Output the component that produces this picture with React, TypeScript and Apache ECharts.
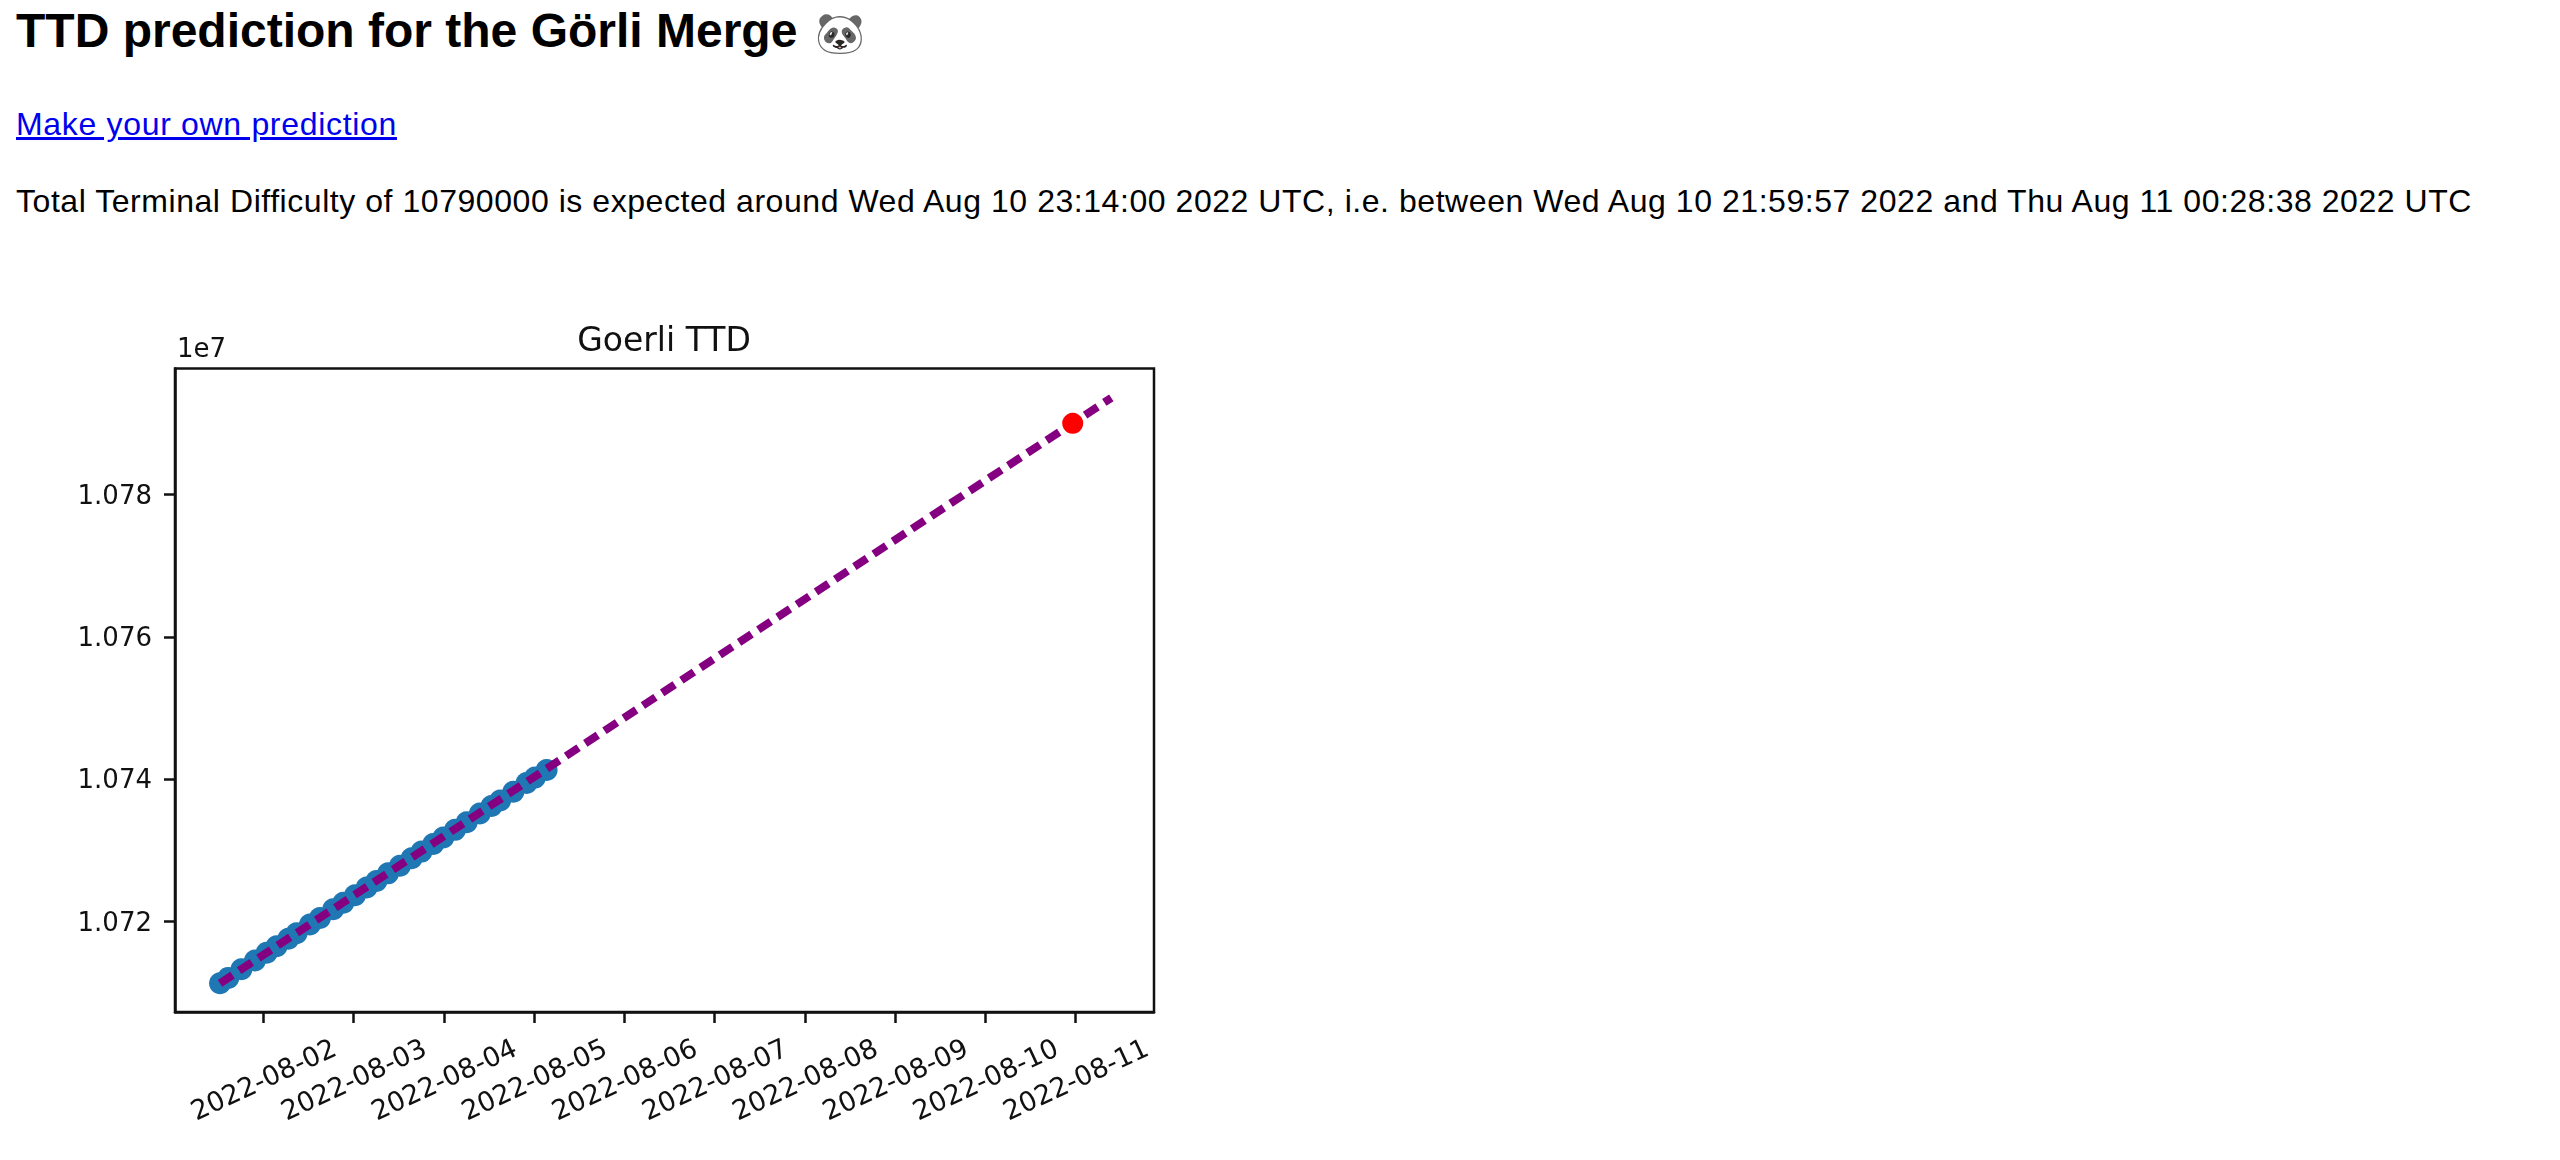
import React, { useEffect, useRef } from "react";
import * as echarts from "echarts";

const headingText = "TTD prediction for the Görli Merge ";
const headingEmoji = "🐼";
const linkText = "Make your own prediction";
const paragraphText =
  "Total Terminal Difficulty of 10790000 is expected around Wed Aug 10 23:14:00 2022 UTC, i.e. between Wed Aug 10 21:59:57 2022 and Thu Aug 11 00:28:38 2022 UTC";
const chartTitle = "Goerli TTD";
const offsetText = "1e7";

const xTickDates = [
  "2022-08-02", "2022-08-03", "2022-08-04", "2022-08-05", "2022-08-06",
  "2022-08-07", "2022-08-08", "2022-08-09", "2022-08-10", "2022-08-11",
];
const yTickValues = [10720000, 10740000, 10760000, 10780000];

const observedTimes = [
  "2022-08-01T12:30:00Z", "2022-08-01T14:42:00Z", "2022-08-01T18:12:00Z", "2022-08-01T21:48:00Z",
  "2022-08-02T00:54:00Z", "2022-08-02T03:33:00Z", "2022-08-02T06:40:00Z", "2022-08-02T08:52:00Z",
  "2022-08-02T12:25:00Z", "2022-08-02T15:05:00Z", "2022-08-02T18:36:00Z", "2022-08-02T21:18:00Z",
  "2022-08-03T00:24:00Z", "2022-08-03T03:30:00Z", "2022-08-03T06:06:00Z", "2022-08-03T09:12:00Z",
  "2022-08-03T12:21:00Z", "2022-08-03T15:27:00Z", "2022-08-03T18:06:00Z", "2022-08-03T21:12:00Z",
  "2022-08-03T23:54:00Z", "2022-08-04T03:00:00Z", "2022-08-04T06:06:00Z", "2022-08-04T09:36:00Z",
  "2022-08-04T12:42:00Z", "2022-08-04T15:00:00Z", "2022-08-04T18:30:00Z", "2022-08-04T22:00:00Z",
  "2022-08-05T00:15:00Z", "2022-08-05T03:21:00Z",
];
const observedTTD = [
  10711350, 10712110, 10713330, 10714560, 10715630, 10716545, 10717615, 10718380,
  10719600, 10720520, 10721740, 10722660, 10723730, 10724800, 10725715, 10726790,
  10727855, 10728925, 10729845, 10730915, 10731830, 10732900, 10733970, 10735190,
  10736265, 10737030, 10738250, 10739470, 10740240, 10741305,
];
const fitTimes = ["2022-08-01T12:30:00Z", "2022-08-11T09:30:00Z"];
const fitTTD = [10711350, 10793580];
const targetTime = "2022-08-10T23:14:00Z";
const targetTTD = 10790000;

const xMin = "2022-08-01T00:32:00Z";
const xMax = "2022-08-11T20:51:00Z";
const yMin = 10707320;
const yMax = 10797700;

const chartFont = "DejaVu Sans";
const inkColor = "#111111";

export default function App() {
  const ref = useRef<HTMLDivElement>(null);
  useEffect(() => {
    const chart = echarts.init(ref.current!, undefined, { renderer: "svg" });
    const ms = (s: string) => Date.parse(s);
    chart.setOption({
      animation: false,
      backgroundColor: "transparent",
      title: {
        text: chartTitle,
        left: 659,
        top: 318,
        textAlign: "center",
        textStyle: { fontFamily: chartFont, fontSize: 33, fontWeight: "normal", color: inkColor },
      },
      grid: { left: 175, top: 368.5, width: 979, height: 643.5, show: false },
      xAxis: {
        type: "value",
        scale: true,
        min: ms(xMin),
        max: ms(xMax),
        splitLine: { show: false },
        axisLine: { show: true, lineStyle: { color: inkColor, width: 2.5 } },
        axisTick: {
          show: true,
          length: 11,
          lineStyle: { color: inkColor, width: 2.5 },
          customValues: xTickDates.map((d) => ms(d + "T00:00:00Z")),
        },
        axisLabel: {
          show: true,
          customValues: xTickDates.map((d) => ms(d + "T00:00:00Z")),
          formatter: (v: number) => new Date(v).toISOString().slice(0, 10),
          rotate: 25,
          align: "center",
          verticalAlign: "middle",
          margin: 67,
          hideOverlap: false,
          fontFamily: chartFont,
          fontSize: 27,
          color: inkColor,
        },
      },
      yAxis: {
        type: "value",
        scale: true,
        min: yMin,
        max: yMax,
        splitLine: { show: false },
        axisLine: { show: true, lineStyle: { color: inkColor, width: 2.5 } },
        axisTick: {
          show: true,
          length: 11,
          lineStyle: { color: inkColor, width: 2.5 },
          customValues: yTickValues,
        },
        axisLabel: {
          show: true,
          customValues: yTickValues,
          formatter: (v: number) => (v / 1e7).toFixed(3),
          margin: 23,
          fontFamily: chartFont,
          fontSize: 26,
          color: inkColor,
        },
      },
      graphic: [
        {
          type: "rect",
          silent: true,
          shape: { x: 175, y: 368.5, width: 979, height: 643.5 },
          style: { fill: "none", stroke: inkColor, lineWidth: 2.5 },
        },
        {
          type: "text",
          x: 177,
          y: 348,
          style: {
            text: offsetText,
            fontFamily: chartFont,
            fontSize: 26,
            fill: inkColor,
            verticalAlign: "middle",
          },
        },
      ],
      series: [
        {
          name: "observed",
          type: "scatter",
          symbolSize: 22,
          itemStyle: { color: "#1f77b4", opacity: 1 },
          data: observedTimes.map((t, i) => [ms(t), observedTTD[i]]),
          z: 2,
        },
        {
          name: "fit",
          type: "line",
          showSymbol: false,
          lineStyle: { color: "#850080", width: 8, type: [15, 8], cap: "butt" },
          data: fitTimes.map((t, i) => [ms(t), fitTTD[i]]),
          z: 3,
        },
        {
          name: "target",
          type: "scatter",
          symbolSize: 21,
          itemStyle: { color: "#ff0000", opacity: 1 },
          data: [[ms(targetTime), targetTTD]],
          z: 4,
        },
      ],
    });
    return () => chart.dispose();
  }, []);

  const font = "'Liberation Sans', Arial, sans-serif";
  return (
    <div style={{ position: "absolute", left: 0, top: 0, width: 2560, height: 1160, overflow: "hidden", background: "#fff" }}>
      <div
        ref={ref}
        style={{ position: "absolute", left: 0, top: 0, width: 2560, height: 1160, filter: "blur(0.7px)" }}
      />
      <h2 style={{ position: "absolute", left: 16, top: 3, margin: 0, fontFamily: font, fontSize: 48, lineHeight: "56px", fontWeight: "bold", color: "#000", whiteSpace: "nowrap" }}>
        {headingText}
        <span style={{ fontSize: 40, fontWeight: "normal", marginLeft: 4, opacity: 0.85 }}>{headingEmoji}</span>
      </h2>
      <a href="#" style={{ position: "absolute", left: 16, top: 105, fontFamily: font, fontSize: 32, lineHeight: "38px", letterSpacing: 0.68, color: "#0000ee", whiteSpace: "nowrap" }}>
        {linkText}
      </a>
      <p style={{ position: "absolute", left: 16, top: 182, margin: 0, fontFamily: font, fontSize: 32, lineHeight: "38px", letterSpacing: 0.55, color: "#000", whiteSpace: "nowrap" }}>
        {paragraphText}
      </p>
    </div>
  );
}
